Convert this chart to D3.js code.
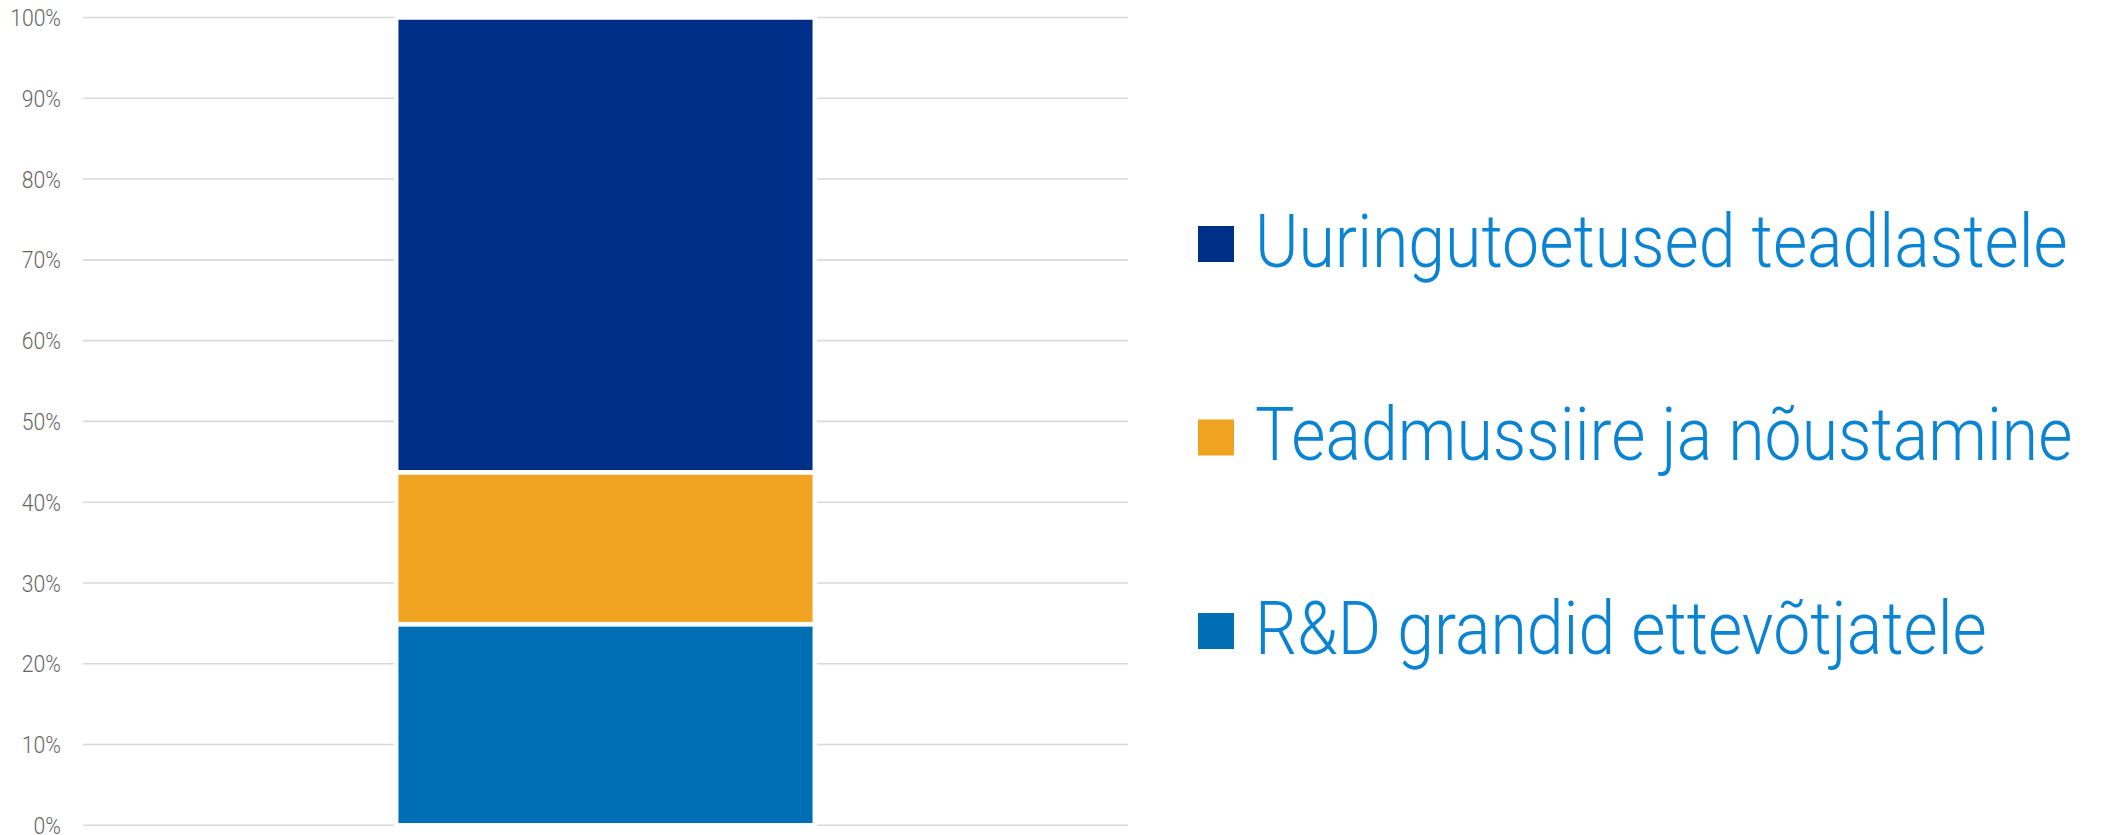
<!DOCTYPE html>
<html>
<head>
<meta charset="utf-8">
<script src="https://cdn.jsdelivr.net/npm/d3@7"></script>
<style>
  html, body { margin: 0; padding: 0; background: #ffffff; }
  svg { display: block; }
  text { font-family: Roboto, "Noto Sans", sans-serif; font-weight: 300; }
</style>
</head>
<body>
<svg id="chart" width="2102" height="835"></svg>
<script>
// ---- data ----
const categories = [""];
const seriesNames = ["R&D grandid ettevõtjatele", "Teadmussiire ja nõustamine", "Uuringutoetused teadlastele"];
const seriesValues = [24.9, 18.8, 56.3];   // percent share, bottom to top
const seriesColors = ["#006EB5", "#F0A221", "#002F87"];
const tickValues = [0, 0.1, 0.2, 0.3, 0.4, 0.5, 0.6, 0.7, 0.8, 0.9, 1.0];
const tickLabels = ["0%", "10%", "20%", "30%", "40%", "50%", "60%", "70%", "80%", "90%", "100%"];
const legendOrder = [2, 1, 0]; // top to bottom in legend

const svg = d3.select("#chart");
const plot = { left: 83, right: 1128, top: 17.5, bottom: 825.3 };

const x = d3.scaleBand().domain(categories).range([plot.left, plot.right]).padding(0.428);
const y = d3.scaleLinear().domain([0, 1]).range([plot.bottom, plot.top]);

// gridlines
svg.append("g").selectAll("line")
  .data(tickValues).join("line")
  .attr("x1", plot.left).attr("x2", plot.right)
  .attr("y1", d => y(d)).attr("y2", d => y(d))
  .attr("stroke", "#d9d9d9").attr("stroke-width", 1.6);

// y axis labels
const yAxis = d3.axisLeft(y).tickValues(tickValues).tickFormat((d, i) => tickLabels[i]).tickSize(0).tickPadding(0);
const gAxis = svg.append("g").attr("transform", "translate(61,0)").call(yAxis);
gAxis.select(".domain").remove();
gAxis.selectAll("text")
  .attr("font-family", "Roboto, sans-serif")
  .attr("font-weight", 300)
  .attr("font-size", 23)
  .attr("fill", "#666666")
  .attr("dy", "0.35em")
  .each(function () {
    const w = this.getComputedTextLength();
    d3.select(this).attr("textLength", w * 0.92).attr("lengthAdjust", "spacingAndGlyphs");
  });

// stacked bar
const total = d3.sum(seriesValues);
const row = {};
seriesNames.forEach((n, i) => row[n] = seriesValues[i] / total);
const stack = d3.stack().keys(seriesNames)([row]);

svg.append("g").selectAll("rect")
  .data(stack).join("rect")
  .attr("x", x(categories[0]))
  .attr("width", x.bandwidth())
  .attr("y", d => y(d[0][1]))
  .attr("height", d => y(d[0][0]) - y(d[0][1]))
  .attr("fill", (d, i) => seriesColors[i])
  .attr("stroke", "#ffffff")
  .attr("stroke-width", 4.5);

// legend
const legendY = d3.scalePoint().domain(legendOrder).range([244, 631]);
const lg = svg.append("g").selectAll("g")
  .data(legendOrder).join("g")
  .attr("transform", d => `translate(1198,${legendY(d)})`);
lg.append("rect")
  .attr("x", 0).attr("y", -18).attr("width", 36).attr("height", 36)
  .attr("fill", d => seriesColors[d]);
lg.append("text")
  .attr("x", 57).attr("y", 22.5)
  .attr("font-size", 74)
  .attr("fill", "#0A84D2")
  .text(d => seriesNames[d])
  .each(function () {
    const w = this.getComputedTextLength();
    d3.select(this).attr("textLength", w * 0.894).attr("lengthAdjust", "spacingAndGlyphs");
  });
</script>
</body>
</html>
